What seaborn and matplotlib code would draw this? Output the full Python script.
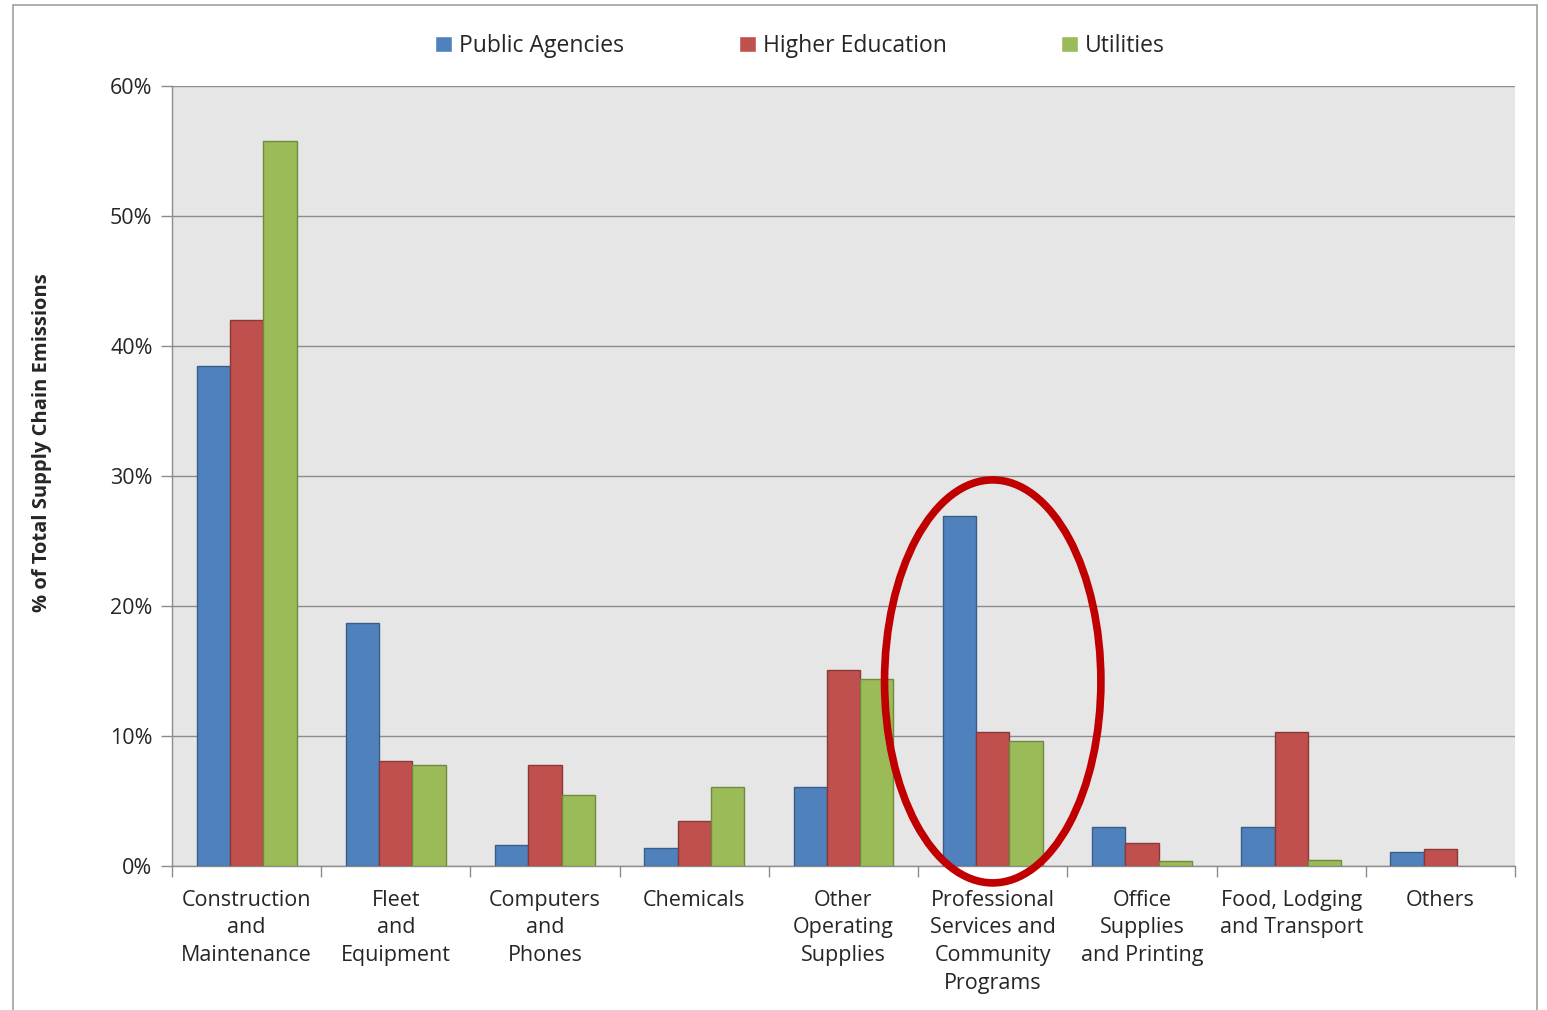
import matplotlib
matplotlib.use("Agg")
import matplotlib.pyplot as plt
from matplotlib.patches import Ellipse, Rectangle
import numpy as np
import pandas as pd
import seaborn as sns

categories = ["Construction\nand\nMaintenance", "Fleet\nand\nEquipment", "Computers\nand\nPhones",
              "Chemicals", "Other\nOperating\nSupplies", "Professional\nServices and\nCommunity\nPrograms",
              "Office\nSupplies\nand Printing", "Food, Lodging\nand Transport", "Others"]
public_agencies = [38.5, 18.7, 1.6, 1.4, 6.1, 26.9, 3.0, 3.0, 1.1]
higher_education = [42.0, 8.1, 7.8, 3.5, 15.1, 10.3, 1.8, 10.3, 1.3]
utilities = [55.8, 7.8, 5.5, 6.1, 14.4, 9.6, 0.4, 0.5, 0.0]
series_names = ["Public Agencies", "Higher Education", "Utilities"]
y_ticks = [0, 10, 20, 30, 40, 50, 60]

sns.set_theme(style="white")
plt.rcParams['font.family'] = ['Open Sans', 'DejaVu Sans']

rows = []
for name, vals in zip(series_names, [public_agencies, higher_education, utilities]):
    for c, v in zip(categories, vals):
        rows.append({"cat": c, "series": name, "val": v})
df = pd.DataFrame(rows)

colors = ["#4F81BD", "#C0504D", "#9BBB59"]
edges = ["#385D8A", "#8C3836", "#71893F"]

fig = plt.figure(figsize=(15.47, 10.10), dpi=100)
ax = fig.add_axes([172/1547, 1-866/1010, (1515-172)/1547, (866-86)/1010])
ax.set_facecolor("#E6E6E6")

sns.barplot(data=df, x="cat", y="val", hue="series", palette=colors, width=0.67,
            ax=ax, order=categories, hue_order=series_names, legend=True, saturation=1)
for cont, ec in zip(ax.containers, edges):
    for p in cont:
        p.set_edgecolor(ec)
        p.set_linewidth(1.0 if p.get_height() > 0 else 0)
        p.set_zorder(3)

ax.set_ylim(0, 60)
ax.set_xlim(-0.5, len(categories) - 0.5)
ax.set_yticks(y_ticks)
ax.set_yticklabels([f"{t}%" for t in y_ticks], fontsize=15.5)
ax.yaxis.grid(True, color="#8C8C8C", linewidth=1.0)
ax.set_axisbelow(True)
ax.tick_params(axis="y", length=8, color="#8C8C8C", width=1, pad=6, left=True)
ax.tick_params(axis="x", which="major", length=0, pad=17, labelsize=15.5)
ax.set_xticks(np.arange(-0.5, len(categories), 1.0), minor=True)
ax.tick_params(axis="x", which="minor", length=8, color="#8C8C8C", width=1, bottom=True)
ax.set_xticklabels(categories, linespacing=1.42)
for s in ["top", "right"]:
    ax.spines[s].set_visible(False)
for s in ["left", "bottom"]:
    ax.spines[s].set_color("#8C8C8C")
    ax.spines[s].set_linewidth(1.0)
ax.set_xlabel("")
ax.set_ylabel("% of Total Supply Chain Emissions", fontsize=14.5, fontweight="bold")
ax.yaxis.set_label_coords((52 - 172) / 1343, (866 - 443) / 780)

leg = ax.legend(loc="center", bbox_to_anchor=(800/1547, 1-46/1010), bbox_transform=fig.transFigure,
                ncol=3, frameon=False, fontsize=16.5, handlelength=0.75, handleheight=0.75,
                handletextpad=0.3, columnspacing=5.0)

ell = Ellipse((5.0, 14.2), width=1.45, height=31.0, fill=False, edgecolor="#C00000",
              linewidth=5.5, zorder=5, clip_on=False)
ax.add_patch(ell)

fig.patches.append(Rectangle((13/1547, -0.01), (1537-13)/1547, 1-5/1010 + 0.01,
                             transform=fig.transFigure, fill=False, edgecolor="#A0A0A0", linewidth=1.2))

fig.savefig("out.png", dpi=100)
